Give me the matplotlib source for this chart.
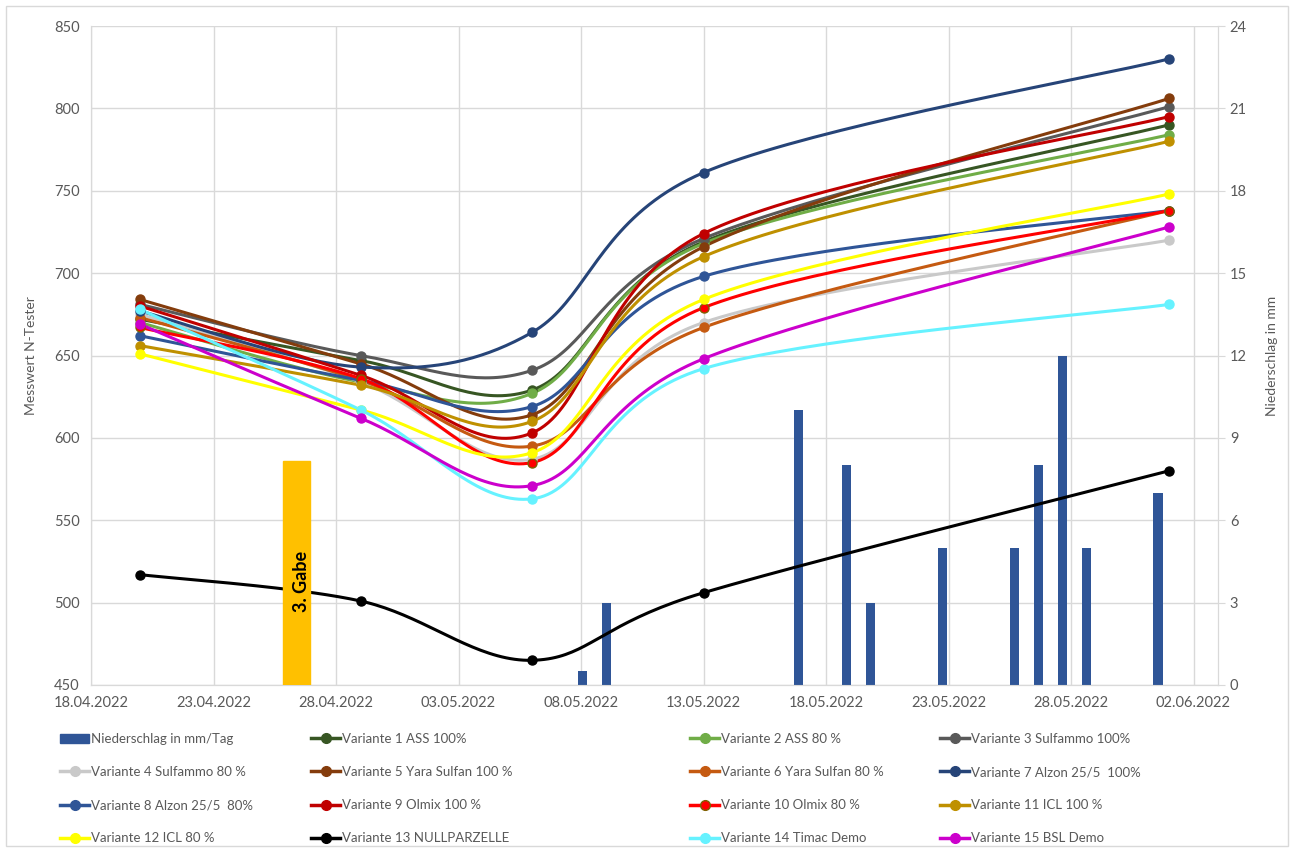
import matplotlib
matplotlib.use("Agg")
import matplotlib.pyplot as plt
import matplotlib.dates as mdates
from matplotlib.patches import Rectangle
from matplotlib.lines import Line2D
import numpy as np
from datetime import datetime

plt.rcParams['font.family'] = ['Lato', 'DejaVu Sans']

# measuring dates and N-tester readings
mess_dates = ["2022-04-20", "2022-04-29", "2022-05-06", "2022-05-13", "2022-06-01"]

labels = [
    "Variante 1 ASS 100%", "Variante 2 ASS 80 %", "Variante 3 Sulfammo 100%",
    "Variante 4 Sulfammo 80 %", "Variante 5 Yara Sulfan 100 %", "Variante 6 Yara Sulfan 80 %",
    "Variante 7 Alzon 25/5  100%", "Variante 8 Alzon 25/5  80%", "Variante 9 Olmix 100 %",
    "Variante 10 Olmix 80 %", "Variante 11 ICL 100 %", "Variante 12 ICL 80 %",
    "Variante 13 NULLPARZELLE", "Variante 14 Timac Demo", "Variante 15 BSL Demo",
]
v1 = [672, 647, 629, 719, 790]
v2 = [670, 634, 627, 718, 784]
v3 = [681, 650, 641, 721, 801]
v4 = [675, 634, 587, 670, 720]
v5 = [684, 645, 614, 716, 806]
v6 = [673, 635, 595, 667, 738]
v7 = [677, 643, 664, 761, 830]
v8 = [662, 635, 619, 698, 738]
v9 = [680, 638, 603, 724, 795]
v10 = [667, 636, 585, 679, 738]
v11 = [656, 632, 610, 710, 780]
v12 = [651, 617, 591, 684, 748]
v13 = [517, 501, 465, 506, 580]
v14 = [678, 617, 563, 642, 681]
v15 = [669, 612, 571, 648, 728]
series = [v1, v2, v3, v4, v5, v6, v7, v8, v9, v10, v11, v12, v13, v14, v15]

colors = ["#375623", "#70AD47", "#595959", "#C9C9C9", "#843C0C", "#C55A11",
          "#264478", "#2F5597", "#C00000", "#FF0000", "#BF9000", "#FFFF00",
          "#000000", "#66F2FF", "#CC00CC"]

# precipitation
rain_dates = ["2022-05-08", "2022-05-09", "2022-05-17", "2022-05-19", "2022-05-20",
              "2022-05-23", "2022-05-26", "2022-05-27", "2022-05-28", "2022-05-29",
              "2022-06-01"]
rain_mm = [0.5, 3, 10, 8, 3, 5, 5, 8, 12, 5, 7]

gabe_date = "2022-04-26 09:00"
gabe_top = 586

tick_dates = ["2022-04-18", "2022-04-23", "2022-04-28", "2022-05-03", "2022-05-08",
              "2022-05-13", "2022-05-18", "2022-05-23", "2022-05-28", "2022-06-02"]


def to_num(s):
    fmt = "%Y-%m-%d %H:%M" if " " in s else "%Y-%m-%d"
    return mdates.date2num(datetime.strptime(s, fmt))


def smooth(xs, ys, sx=24.5, sy=1.6467, n=40):
    """Excel-like smoothed line (bezier through points, 1/6 tangents)."""
    P = np.column_stack([np.asarray(xs) * sx, np.asarray(ys) * sy])
    out = []
    for i in range(len(P) - 1):
        p0 = P[i - 1] if i > 0 else P[i]
        p1, p2 = P[i], P[i + 1]
        p3 = P[i + 2] if i + 2 < len(P) else P[i + 1]
        c1 = p1 + (p2 - p0) / 6
        c2 = p2 - (p3 - p1) / 6
        t = np.linspace(0, 1, n)[:, None]
        seg = ((1 - t) ** 3) * p1 + 3 * ((1 - t) ** 2) * t * c1 + 3 * (1 - t) * t ** 2 * c2 + t ** 3 * p2
        out.append(seg if i == 0 else seg[1:])
    out = np.vstack(out)
    return out[:, 0] / sx, out[:, 1] / sy


xd = np.array([to_num(d) for d in mess_dates])
x0 = to_num("2022-04-18")
x1 = to_num("2022-06-03")

grid_c = "#D9D9D9"
txt_c = "#595959"

fig = plt.figure(figsize=(12.94, 8.52), dpi=100)
rect = [91 / 1294, 1 - 685 / 852, (1218 - 91) / 1294, (685 - 26) / 852]

# base axes: grid, date axis, left value axis
ax1 = fig.add_axes(rect, zorder=0)
ax1.set_xlim(x0, x1)
ax1.set_ylim(450, 850)
ax1.set_yticks(np.arange(450, 851, 50))
ax1.set_xticks([to_num(d) for d in tick_dates])
ax1.xaxis.set_major_formatter(mdates.DateFormatter("%d.%m.%Y"))
ax1.grid(True, color=grid_c, linewidth=1)
ax1.tick_params(axis='both', length=0, labelcolor=txt_c, labelsize=10.5, pad=8)
ax1.set_ylabel("Messwert N-Tester", color=txt_c, fontsize=10, labelpad=12)

# precipitation bars: column axis, one slot per day (half a day padding each side)
axb = fig.add_axes(rect, zorder=1)
axb.patch.set_visible(False)
axb.bar([to_num(d) for d in rain_dates], rain_mm, width=0.38, color="#2F5597")
axb.set_xlim(x0 - 0.5, x1 + 0.5)
axb.set_ylim(0, 24)
axb.set_yticks(np.arange(0, 25, 3))
axb.xaxis.set_visible(False)
axb.yaxis.tick_right()
axb.yaxis.set_label_position('right')
axb.tick_params(axis='y', colors=grid_c, labelcolor=txt_c, labelsize=10.5, length=5)
axb.set_ylabel("Niederschlag in mm", color=txt_c, fontsize=10, labelpad=14)

# lines on top
axl = fig.add_axes(rect, zorder=2)
axl.patch.set_visible(False)
axl.set_xlim(x0, x1)
axl.set_ylim(450, 850)
axl.axis('off')

handles = []
for i, (vals, c) in enumerate(zip(series, colors)):
    sxv, syv = smooth(xd - x0, vals)
    axl.plot(sxv + x0, syv, color=c, linewidth=2.2, solid_capstyle='round', zorder=3)
    mec = "#7F6000" if i == 9 else c
    axl.plot(xd, vals, linestyle='none', marker='o', markersize=6.5, color=c, mec=mec, zorder=4)
    handles.append(Line2D([], [], color=c, linewidth=2.5, marker='o', markersize=7, mec=mec))

# 3. Gabe marker
gx = to_num(gabe_date)
axl.add_patch(Rectangle((gx - 0.55, 450), 1.1, gabe_top - 450, color="#FFC000", zorder=5))
axl.text(gx + 0.2, 513, "3. Gabe", rotation=90, ha='center', va='center',
         fontsize=13, fontweight='bold', color='black', zorder=6)

for ax in (ax1, axb):
    for s in ax.spines.values():
        s.set_color(grid_c)
    ax.spines['top'].set_visible(False)

# legend: 4 columns, filled row-wise as in the original
bar_handle = Rectangle((0, 0), 1, 1, color="#2F5597")
all_handles = [bar_handle] + handles
all_labels = ["Niederschlag in mm/Tag"] + labels
col_x = [60, 311, 690, 940]
for c in range(4):
    idx = [r * 4 + c for r in range(4)]
    fig.legend([all_handles[k] for k in idx], [all_labels[k] for k in idx],
               loc='upper left', bbox_to_anchor=(col_x[c] / 1294, 1 - 733 / 852),
               frameon=False, fontsize=9.5, labelcolor=txt_c, handlelength=2.2,
               handletextpad=0.15, labelspacing=1.6, borderpad=0, borderaxespad=0)

fig.patches.append(Rectangle((6 / 1294, 6 / 852), 1282 / 1294, 840 / 852, transform=fig.transFigure,
                             fill=False, edgecolor=grid_c, linewidth=1))

fig.savefig("out.png", dpi=100)
